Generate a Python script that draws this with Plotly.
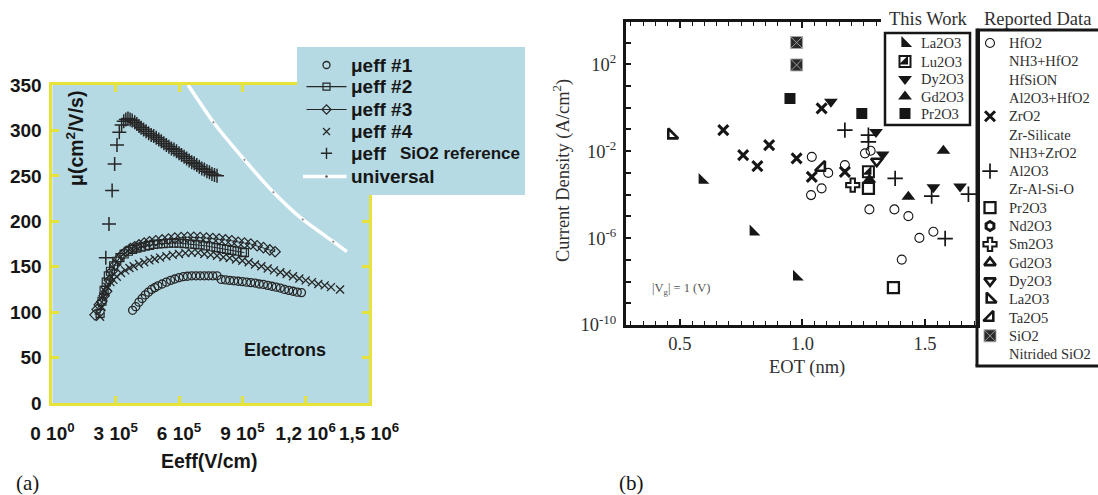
import plotly.graph_objects as go

W, H = 1098, 495

# ---------------- panel (a): effective electron mobility ----------------
# effective field in units of 1e5 V/cm, mobility in cm^2/V/s
e_ref = [2.53, 2.68, 2.83, 2.95, 3.06, 3.17, 3.28, 3.38, 3.48, 3.58, 3.68, 3.78,
         3.90, 4.00, 4.10, 4.20, 4.32, 4.44, 4.56, 4.68, 4.80, 4.92, 5.04, 5.16,
         5.28, 5.40, 5.52, 5.64, 5.76, 5.88, 6.00, 6.12, 6.24, 6.36, 6.48, 6.60,
         6.72, 6.84, 6.96, 7.08, 7.20, 7.32, 7.44, 7.56, 7.68, 7.80]
mu_ref = [160, 197, 234, 263, 284, 298, 306, 310, 312, 313, 312, 311,
          309, 307, 305, 303, 301, 299, 297, 295, 294, 292, 290, 288,
          286, 284, 282, 280, 279, 277, 275, 273, 271, 269, 267, 265,
          264, 262, 260, 258, 257, 255, 254, 252, 251, 250]

e_1 = [3.80, 3.95, 4.10, 4.25, 4.40, 4.55, 4.70, 4.85, 5.00, 5.20, 5.40, 5.60,
       5.80, 6.00, 6.20, 6.40, 6.60, 6.80, 7.00, 7.20, 7.40, 7.60, 7.80, 8.00,
       8.20, 8.40, 8.60, 8.80, 9.00, 9.20, 9.40, 9.60, 9.80, 10.0, 10.2, 10.4,
       10.6, 10.8, 11.0, 11.2, 11.4, 11.6, 11.8]
mu_1 = [102, 106, 111, 115, 119, 122, 125, 127, 129, 131, 133, 135,
        136.5, 138, 139, 139.5, 140, 140, 140, 140, 140, 140, 140, 136,
        135.5, 135, 134.5, 134, 133.5, 133, 132.5, 132, 131, 130.5, 129.5, 128.5,
        127.5, 126.5, 125, 124, 123, 122, 121.5]

e_2 = [2.26, 2.35, 2.45, 2.55, 2.65, 2.75, 2.90, 3.05, 3.20, 3.40, 3.60, 3.80,
       4.00, 4.20, 4.40, 4.60, 4.80, 5.00, 5.25, 5.50, 5.75, 6.00, 6.25, 6.50,
       6.75, 7.00, 7.25, 7.50, 7.75, 8.00, 8.25, 8.50, 8.75, 9.00, 9.10]
mu_2 = [98.6, 112, 124, 133, 140, 145, 151, 156, 160, 164, 167, 169,
        170.5, 171.5, 172.5, 173.5, 174.5, 175, 175.5, 176, 176, 176, 175.5, 175,
        174.5, 174, 173, 172, 171, 170, 169, 168, 167, 166, 165.5]

e_3 = [2.02, 2.12, 2.22, 2.34, 2.45, 2.57, 2.70, 2.82, 2.97, 3.12, 3.30, 3.50,
       3.70, 3.90, 4.10, 4.35, 4.60, 4.90, 5.20, 5.50, 5.80, 6.10, 6.40, 6.70,
       7.00, 7.30, 7.60, 7.90, 8.20, 8.50, 8.80, 9.10, 9.40, 9.70, 10.0, 10.3, 10.55]
mu_3 = [97, 103, 108, 111.5, 118, 123, 135, 145, 152, 158, 163, 167,
        170, 172, 174, 176, 177.5, 178.5, 179.5, 180.5, 181.5, 182, 182.5, 182.5,
        182, 181.5, 181, 180.5, 179.5, 178.5, 177, 176, 175, 173, 171, 168.5, 166.5]

e_4 = [2.26, 2.33, 2.41, 2.50, 2.60, 2.75, 2.89, 3.05, 3.25, 3.45, 3.65, 3.85,
       4.10, 4.35, 4.60, 4.85, 5.10, 5.40, 5.70, 6.00, 6.30, 6.60, 6.90, 7.20,
       7.50, 7.80, 8.10, 8.40, 8.70, 9.00, 9.30, 9.60, 9.90, 10.2, 10.5, 10.8,
       11.1, 11.4, 11.7, 12.0, 12.3, 12.6, 12.9, 13.2, 13.63]
mu_4 = [95, 106, 117, 123, 128, 133, 135.5, 139, 143, 146, 148.5, 150.5,
        153, 155, 157, 158.5, 160, 161.5, 163, 164, 165, 165.5, 165.5, 164,
        163, 162, 160.5, 159.5, 158, 156.5, 155, 152.5, 150.5, 148, 146, 144,
        142, 139.5, 137, 135, 133, 131, 129.5, 127.5, 125]

e_univ = [6.43, 7.63, 9.10, 10.47, 11.86, 13.31, 13.95]
mu_univ = [350, 309, 267.6, 232, 202, 177.6, 166.6]

field_ticks = [0, 3e5, 6e5, 9e5, 1.2e6, 1.5e6]
field_ticktext = ["0 10<sup>0</sup>", "3 10<sup>5</sup>", "6 10<sup>5</sup>",
                  "9 10<sup>5</sup>", "1,2 10<sup>6</sup>", "1,5 10<sup>6</sup>"]
mu_ticks = [0, 50, 100, 150, 200, 250, 300, 350]

# ---------------- panel (b): leakage current density vs EOT ----------------
# EOT in nm, current density given as log10(J / A cm^-2)
la_tw_eot, la_tw_exp = [0.591, 0.799, 0.976], [-3.33, -5.71, -7.79]
lu_tw_eot, lu_tw_exp = [1.269], [-2.95]
dy_tw_eot = [1.116, 1.300, 1.327, 1.534, 1.643]
dy_tw_exp = [0.28, -1.12, -2.15, -3.66, -3.62]
gd_tw_eot, gd_tw_exp = [1.273, 1.432, 1.575], [-3.30, -4.10, -1.98]
pr_tw_eot, pr_tw_exp = [0.949, 1.242], [0.43, -0.26]

hfo2_eot = [1.038, 1.105, 1.078, 1.035, 1.173, 1.255, 1.278, 1.273, 1.375,
            1.432, 1.477, 1.534, 1.405]
hfo2_exp = [-2.26, -3.00, -3.71, -4.02, -2.64, -2.10, -1.98, -4.68, -4.68,
            -4.99, -5.99, -5.71, -6.99]
zro2_eot = [0.677, 0.758, 0.816, 0.864, 0.976, 1.038, 1.078, 1.173]
zro2_exp = [-1.03, -2.18, -2.69, -1.72, -2.33, -3.18, -0.03, -2.95]
al2o3_eot = [1.173, 1.269, 1.269, 1.378, 1.527, 1.677, 1.582]
al2o3_exp = [-1.03, -1.26, -1.57, -3.25, -4.07, -3.98, -6.02]
pr2o3_eot, pr2o3_exp = [1.269, 1.371], [-3.71, -8.28]
sm2o3_eot, sm2o3_exp = [1.205], [-3.56]
dy2o3_eot, dy2o3_exp = [1.303], [-2.46]
la2o3_eot, la2o3_exp = [0.466], [-1.26]
ta2o5_eot, ta2o5_exp = [1.078], [-2.75]
sio2_eot, sio2_exp = [0.976, 0.976], [3.00, 1.97]

this_work_names = ["La2O3", "Lu2O3", "Dy2O3", "Gd2O3", "Pr2O3"]
reported_names = ["HfO2", "NH3+HfO2", "HfSiON", "Al2O3+HfO2", "ZrO2", "Zr-Silicate",
                  "NH3+ZrO2", "Al2O3", "Zr-Al-Si-O", "Pr2O3", "Nd2O3", "Sm2O3",
                  "Gd2O3", "Dy2O3", "La2O3", "Ta2O5", "SiO2", "Nitrided SiO2"]

# ---------------- styling ----------------
SANS = "Liberation Sans"
SERIF = "Liberation Serif"
BLUE = "#b5dae4"
YELLOW = "#e7e23a"
INK = "#161616"
DARK = "#262626"
TXT = "#2f2f2f"


def fx(p):
    return p / W


def fy(p):
    return 1 - p / H


def mk(symbol, size, lw=0.0, lcolor=INK):
    return dict(symbol=symbol, size=size, color=INK, line=dict(width=lw, color=lcolor))


style = {
    "La2O3_tw": [mk("triangle-sw", 12)],
    "Lu2O3_tw": [mk("square-open", 11, lw=2), mk("triangle-se", 10)],
    "Dy2O3_tw": [mk("triangle-down", 12)],
    "Gd2O3_tw": [mk("triangle-up", 12)],
    "Pr2O3_tw": [mk("square", 11)],
    "HfO2": [mk("circle-open", 9, lw=1.1)],
    "ZrO2": [mk("x-thin-open", 10, lw=3)],
    "Al2O3": [mk("cross-thin-open", 11, lw=1.7)],
    "Pr2O3": [mk("square-open", 11, lw=2.3)],
    "Nd2O3": [mk("hexagon-open", 9, lw=3)],
    "Sm2O3": [mk("cross-open", 11, lw=2)],
    "Gd2O3": [mk("triangle-up-open", 10, lw=2.6)],
    "Dy2O3": [mk("triangle-down-open", 10, lw=2.6)],
    "La2O3": [mk("triangle-sw-open", 11, lw=2.6)],
    "Ta2O5": [mk("triangle-se-open", 11, lw=2.6)],
    "SiO2": [dict(symbol="square-x", size=12, color="#2a2a2a",
                  line=dict(width=0.9, color="#a8a8a8"))],
}

fig = go.Figure()


def field(e):
    return [v * 1e5 for v in e]


# ---- panel (a) curves ----
fig.add_trace(go.Scatter(x=field(e_univ), y=mu_univ, mode="lines+markers",
                         line=dict(color="white", width=3.5, shape="spline", smoothing=0.6),
                         marker=dict(size=[0, 3, 3, 3, 3, 3, 0], color="#555"),
                         xaxis="x", yaxis="y"))
fig.add_trace(go.Scatter(x=field(e_1), y=mu_1, mode="markers",
                         marker=dict(symbol="circle-open", size=8, color=DARK,
                                     line=dict(width=1.3)), xaxis="x", yaxis="y"))
fig.add_trace(go.Scatter(x=field(e_2), y=mu_2, mode="lines+markers",
                         line=dict(color=DARK, width=1),
                         marker=dict(symbol="square-open", size=8, color=DARK,
                                     line=dict(width=1.2)), xaxis="x", yaxis="y"))
fig.add_trace(go.Scatter(x=field(e_3), y=mu_3, mode="lines+markers",
                         line=dict(color=DARK, width=1),
                         marker=dict(symbol="diamond-open", size=8, color=DARK,
                                     line=dict(width=1.2)), xaxis="x", yaxis="y"))
fig.add_trace(go.Scatter(x=field(e_4), y=mu_4, mode="markers",
                         marker=dict(symbol="x-thin-open", size=8, color=DARK,
                                     line=dict(width=1.3, color=DARK)), xaxis="x", yaxis="y"))
fig.add_trace(go.Scatter(x=field(e_ref), y=mu_ref, mode="markers",
                         marker=dict(symbol="cross-thin-open", size=10, color=DARK,
                                     line=dict(width=1.5, color=DARK)), xaxis="x", yaxis="y"))

# ---- panel (b) points ----
series_b = [
    ("SiO2", sio2_eot, sio2_exp), ("HfO2", hfo2_eot, hfo2_exp),
    ("ZrO2", zro2_eot, zro2_exp), ("Al2O3", al2o3_eot, al2o3_exp),
    ("Pr2O3", pr2o3_eot, pr2o3_exp), ("Sm2O3", sm2o3_eot, sm2o3_exp),
    ("Dy2O3", dy2o3_eot, dy2o3_exp), ("La2O3", la2o3_eot, la2o3_exp),
    ("Ta2O5", ta2o5_eot, ta2o5_exp),
    ("La2O3_tw", la_tw_eot, la_tw_exp), ("Lu2O3_tw", lu_tw_eot, lu_tw_exp),
    ("Dy2O3_tw", dy_tw_eot, dy_tw_exp), ("Gd2O3_tw", gd_tw_eot, gd_tw_exp),
    ("Pr2O3_tw", pr_tw_eot, pr_tw_exp),
]
for key, xs, es in series_b:
    for m in style[key]:
        fig.add_trace(go.Scatter(x=xs, y=[10 ** v for v in es], mode="markers",
                                 marker=m, xaxis="x2", yaxis="y2"))


# ---- legends, drawn on a full-figure pixel axis (x3/y3) ----
def sym(xp, yp, key):
    for m in style[key]:
        fig.add_trace(go.Scatter(x=[xp], y=[yp], mode="markers", marker=m,
                                 xaxis="x3", yaxis="y3"))


ann = []


def text(xp, yp, s, size, family, color, anchor="left", weight="normal", angle=0):
    ann.append(dict(x=xp, y=yp, xref="x3", yref="y3", text=s, showarrow=False,
                    xanchor=anchor, yanchor="middle", textangle=angle,
                    font=dict(family=family, size=size, color=color, weight=weight)))


# legend of panel (a)
leg_a_y = [65, 86.7, 109.5, 131.5, 153.3, 176.5]
lx0, lxc, lx1 = 306.5, 326.5, 346.5
fig.add_trace(go.Scatter(x=[lxc], y=[leg_a_y[0]], mode="markers",
                         marker=dict(symbol="circle-open", size=7, color=DARK, line=dict(width=1.3)),
                         xaxis="x3", yaxis="y3"))
for yy, s in [(leg_a_y[1], "square-open"), (leg_a_y[2], "diamond-open")]:
    fig.add_trace(go.Scatter(x=[lx0, lx1], y=[yy, yy], mode="lines",
                             line=dict(color=DARK, width=1.2), xaxis="x3", yaxis="y3"))
    fig.add_trace(go.Scatter(x=[lxc], y=[yy], mode="markers",
                             marker=dict(symbol=s, size=7, color=DARK, line=dict(width=1.2)),
                             xaxis="x3", yaxis="y3"))
fig.add_trace(go.Scatter(x=[lxc], y=[leg_a_y[3]], mode="markers",
                         marker=dict(symbol="x-thin-open", size=7, color=DARK,
                                     line=dict(width=1.3, color=DARK)), xaxis="x3", yaxis="y3"))
fig.add_trace(go.Scatter(x=[lxc], y=[leg_a_y[4]], mode="markers",
                         marker=dict(symbol="cross-thin-open", size=8, color=DARK,
                                     line=dict(width=1.4, color=DARK)), xaxis="x3", yaxis="y3"))
fig.add_trace(go.Scatter(x=[303, lx1], y=[leg_a_y[5], leg_a_y[5]], mode="lines",
                         line=dict(color="white", width=3.5), xaxis="x3", yaxis="y3"))
fig.add_trace(go.Scatter(x=[lxc], y=[leg_a_y[5]], mode="markers",
                         marker=dict(size=2.5, color="#555"), xaxis="x3", yaxis="y3"))
for yy, s in zip(leg_a_y, ["μeff #1", "μeff #2", "μeff #3", "μeff #4", "μeff", "universal"]):
    text(349, yy, s, 19, SANS, INK, weight="bold")
text(398, leg_a_y[4], "SiO2 reference", 17, SANS, INK, weight="bold")

# legend "This Work"
tw_y = [43.3, 61.5, 79, 96.5, 113.5]
for yy, name in zip(tw_y, this_work_names):
    sym(905, yy, name + "_tw")
    text(919, yy, name, 14.5, SERIF, TXT)

# legend "Reported Data"
with_symbol = {"HfO2", "ZrO2", "Al2O3", "Pr2O3", "Nd2O3", "Sm2O3",
               "Gd2O3", "Dy2O3", "La2O3", "Ta2O5", "SiO2"}
for i, name in enumerate(reported_names):
    yy = 43 + 18.3 * i
    if name in with_symbol:
        sym(990, yy, name)
    text(1007, yy, name, 14.5, SERIF, TXT)

text(928, 18.5, "This Work", 18.5, SERIF, TXT, anchor="center")
text(1037, 18.5, "Reported Data", 18.5, SERIF, TXT, anchor="center")

# axis titles and panel labels
text(75, 139, "μ(cm<sup>2</sup>/V/s)", 19.5, SANS, INK, anchor="center", weight="bold", angle=-90)
text(285, 350, "Electrons", 18, SANS, INK, anchor="center", weight="bold")
text(209, 461, "Eeff(V/cm)", 19.5, SANS, INK, anchor="center", weight="bold")
text(27, 483, "(a)", 21, SERIF, INK, anchor="center")
text(561, 171, "Current Density (A/cm<sup>2</sup>)", 18.5, SERIF, TXT, anchor="center", angle=-90)
text(807, 367, "EOT (nm)", 18.5, SERIF, TXT, anchor="center")
text(681, 289, "|V<sub>g</sub>| = 1 (V)", 12.5, SERIF, "#555", anchor="center")
text(631, 483, "(b)", 21, SERIF, INK, anchor="center")

shapes = [
    dict(type="rect", xref="x domain", yref="y domain", x0=0, x1=1, y0=0, y1=1,
         fillcolor=BLUE, line=dict(width=0), layer="below"),
    dict(type="rect", xref="x3", yref="y3", x0=297, x1=525, y0=47, y1=195,
         fillcolor=BLUE, line=dict(width=0), layer="below"),
    dict(type="rect", xref="x3", yref="y3", x0=881, x1=1098, y0=6, y1=29,
         fillcolor="white", line=dict(width=0), layer="below"),
    dict(type="rect", xref="x3", yref="y3", x0=885, x1=970, y0=33, y1=125,
         fillcolor="white", line=dict(width=2.5, color=INK), layer="below"),
    dict(type="line", xref="x3", yref="y3", x0=977, x1=1100, y0=30, y1=30,
         line=dict(width=3, color=INK), layer="below"),
    dict(type="line", xref="x3", yref="y3", x0=977, x1=977, y0=28.5, y1=366,
         line=dict(width=3, color=INK), layer="below"),
    dict(type="line", xref="x3", yref="y3", x0=975.5, x1=1100, y0=366, y1=366,
         line=dict(width=3, color=INK), layer="below"),
]

minor_eot = [round(0.30 + 0.05 * k, 2) for k in range(29)]
decades = [10.0 ** k for k in range(-10, 4)]
labelled_decades = [1e-10, 1e-6, 1e-2, 1e2]
decade_text = ["10<sup>-10</sup>", "10<sup>-6</sup>", "10<sup>-2</sup>", "10<sup>2</sup>"]

fig.update_layout(
    width=W, height=H, margin=dict(l=0, r=0, t=0, b=0, autoexpand=False),
    paper_bgcolor="white", plot_bgcolor="rgba(0,0,0,0)", showlegend=False,
    annotations=ann, shapes=shapes,
    xaxis=dict(domain=[fx(52.4), fx(369)], range=[0, 1.5e6], anchor="y", automargin=False,
               tickmode="array", tickvals=field_ticks, ticktext=field_ticktext, tickangle=0,
               ticks="inside", ticklen=7, tickwidth=3, tickcolor=YELLOW,
               showline=True, linecolor=YELLOW, linewidth=3, mirror="ticks",
               showgrid=False, zeroline=False, ticklabelstandoff=11,
               tickfont=dict(family=SANS, size=19, color=INK, weight="bold")),
    yaxis=dict(domain=[fy(403), fy(85)], range=[0, 350], anchor="x", automargin=False,
               tickmode="array", tickvals=mu_ticks,
               ticks="inside", ticklen=7, tickwidth=3, tickcolor=YELLOW,
               showline=True, linecolor=YELLOW, linewidth=3, mirror="ticks",
               showgrid=False, zeroline=False, ticklabelstandoff=4,
               tickfont=dict(family=SANS, size=19, color=INK, weight="bold")),
    xaxis2=dict(domain=[fx(626), fx(977)], range=[0.28, 1.712], anchor="y2", automargin=False,
                tickmode="array", tickvals=[0.5, 1.0, 1.5], ticktext=["0.5", "1.0", "1.5"],
                ticks="inside", ticklen=6, tickwidth=1.5, tickcolor=INK,
                minor=dict(tickmode="array", tickvals=minor_eot, ticks="inside",
                           ticklen=4, tickwidth=1.2, tickcolor=INK),
                showline=True, linecolor=INK, linewidth=3, mirror="allticks",
                showgrid=False, zeroline=False, ticklabelstandoff=0,
                tickfont=dict(family=SERIF, size=18.5, color=TXT)),
    yaxis2=dict(domain=[fy(325), fy(21.7)], type="log", range=[-10, 3.96], anchor="x2",
                automargin=False,
                tickmode="array", tickvals=labelled_decades, ticktext=decade_text,
                ticks="inside", ticklen=5, tickwidth=1.5, tickcolor=INK,
                minor=dict(tickmode="array", tickvals=decades, ticks="inside",
                           ticklen=5, tickwidth=1.5, tickcolor=INK),
                showline=True, linecolor=INK, linewidth=3, mirror=True,
                showgrid=False, zeroline=False, ticklabelstandoff=3,
                tickfont=dict(family=SERIF, size=18.5, color=TXT)),
    xaxis3=dict(domain=[0, 1], range=[0, W], visible=False, anchor="y3", fixedrange=True,
                automargin=False),
    yaxis3=dict(domain=[0, 1], range=[H, 0], visible=False, anchor="x3", fixedrange=True,
                automargin=False),
)

fig.write_html("out.html")
